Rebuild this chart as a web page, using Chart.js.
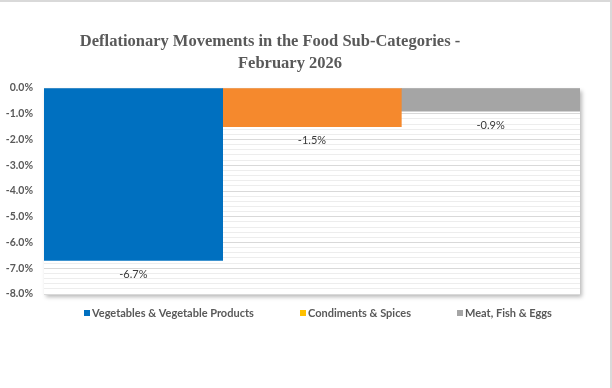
<!DOCTYPE html>
<html><head><meta charset="utf-8">
<script src="https://cdn.jsdelivr.net/npm/chart.js@4"></script>
<style>html,body{margin:0;padding:0;background:#fff}#wrap{width:612px;height:388px;position:relative}</style>
</head><body><div id="wrap"><canvas id="c" width="612" height="388"></canvas></div>
<script>
const titleLines = ['Deflationary Movements in the Food Sub-Categories -', 'February 2026'];
const seriesNames = ['Vegetables & Vegetable Products', 'Condiments & Spices', 'Meat, Fish & Eggs'];
const seriesValues = [-6.7, -1.5, -0.9];
const barColors = ['#0070C0', '#F5892D', '#A5A5A5'];
const legendColors = ['#0070C0', '#FFC000', '#A5A5A5'];
const yMin = -8, yMax = 0;

const legendX = [84, 300, 457];

const frameAndShadow = {
  id: 'frameAndShadow',
  beforeDraw(chart) {
    const {ctx, chartArea: a} = chart;
    ctx.save();
    ctx.fillStyle = '#fff';
    ctx.shadowColor = 'rgba(0,0,0,0.28)';
    ctx.shadowBlur = 4;
    ctx.shadowOffsetX = 1.5;
    ctx.shadowOffsetY = 2.5;
    ctx.fillRect(a.left, a.top, a.right - a.left, a.bottom - a.top);
    ctx.restore();
  },
  afterDraw(chart) {
    const ctx = chart.ctx;
    ctx.save();
    ctx.strokeStyle = '#D9D9D9';
    ctx.lineWidth = 2;
    ctx.beginPath();
    ctx.moveTo(0, 1); ctx.lineTo(611, 1); ctx.lineTo(611, 388);
    ctx.stroke();
    // title
    ctx.fillStyle = '#595959';
    ctx.font = 'bold 16.5px "Liberation Serif", "Times New Roman", serif';
    ctx.textAlign = 'center';
    ctx.textBaseline = 'middle';
    ctx.fillText(titleLines[0], 270, 42);
    ctx.fillText(titleLines[1], 290, 64);
    // data labels
    ctx.font = '11px Lato, "Open Sans", sans-serif';
    ctx.fillStyle = '#3A3A3A';
    ctx.textBaseline = 'top';
    chart.data.datasets.forEach((ds, i) => {
      const el = chart.getDatasetMeta(i).data[0];
      ctx.fillText(ds.data[0].toFixed(1) + '%', el.x, el.y + 8.5);
    });
    // legend
    ctx.font = 'bold 11px Lato, "Open Sans", sans-serif';
    ctx.textAlign = 'left';
    ctx.textBaseline = 'middle';
    seriesNames.forEach((n, i) => {
      ctx.fillStyle = legendColors[i];
      ctx.fillRect(legendX[i], 310, 6, 6);
      ctx.fillStyle = '#595959';
      ctx.fillText(n, legendX[i] + 8, 313);
    });
    ctx.restore();
  }
};

new Chart(document.getElementById('c'), {
  type: 'bar',
  data: {
    labels: [''],
    datasets: seriesNames.map((n, i) => ({
      label: n,
      data: [seriesValues[i]],
      backgroundColor: barColors[i],
      borderWidth: 0,
      categoryPercentage: 1,
      barPercentage: 1
    }))
  },
  options: {
    responsive: false,
    animation: false,
    layout: {padding: {top: 88, right: 32, left: 0, bottom: 94}},
    plugins: {
      title: {display: false},
      tooltip: {enabled: false},
      legend: {display: false}
    },
    scales: {
      x: {display: false},
      y: {
        min: yMin, max: yMax,
        border: {display: false},
        afterFit: s => { s.width = 44; },
        grid: {
          drawTicks: false,
          color: ctx => Math.abs(ctx.tick.value - Math.round(ctx.tick.value)) < 1e-6 ? '#D9D9D9' : '#EDEDED',
          lineWidth: 1
        },
        ticks: {
          stepSize: 0.2, autoSkip: false, padding: 11,
          color: '#595959',
          font: {size: 10.5, weight: 'bold', family: 'Lato, "Open Sans", sans-serif'},
          callback: v => Math.abs(v - Math.round(v)) < 1e-6 ? Math.round(v).toFixed(1) + '%' : ''
        }
      }
    }
  },
  plugins: [frameAndShadow]
});
</script></body></html>
